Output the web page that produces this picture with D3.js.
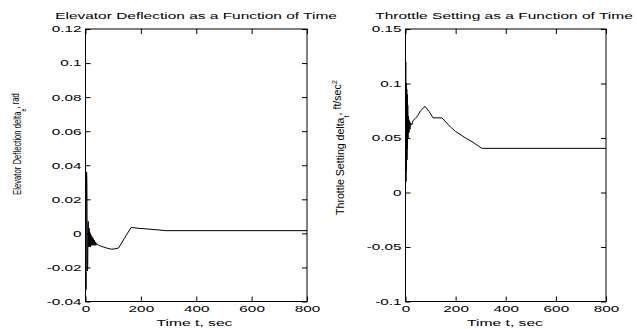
<!DOCTYPE html>
<html>
<head>
<meta charset="UTF-8"/>
<style>
  body { margin: 0; background: #fff; }
  text { font-family: "Liberation Sans", Arial, sans-serif; fill: #000; }
</style>
</head>
<body>
<script src="https://d3js.org/d3.v7.min.js"></script>
<script>
// ---- data ----
let xTicks = [0, 200, 400, 600, 800];

let elevTicks = [-0.04, -0.02, 0, 0.02, 0.04, 0.06, 0.08, 0.1, 0.12];
let elevTickLabels = ["-0.04", "-0.02", "0", "0.02", "0.04", "0.06", "0.08", "0.1", "0.12"];
let elevTime = [0, 1, 2, 3, 4, 5, 6, 7, 8, 9, 10, 11, 12, 13, 14, 15, 16, 17, 18, 20, 22, 24, 26,
    28, 30, 32, 34, 36, 38, 40, 44, 48, 55, 65, 80, 95, 110, 120, 140, 165, 190, 230, 290, 800];
let elevValue = [0, -0.01, -0.033, 0.02, 0.036, 0.03, -0.005, -0.022, -0.02, 0.005, 0.007, -0.008,
    -0.006, 0.003, -0.007, 0.001, -0.008, 0.0, -0.008, -0.001, -0.007, -0.002, -0.007, -0.003,
    -0.007, -0.004, -0.007, -0.005, -0.007, -0.006, -0.0065, -0.007, -0.0075, -0.008, -0.0088,
    -0.0093, -0.009, -0.0085, -0.003, 0.0035, 0.003, 0.0025, 0.0016, 0.0016];

let thrTicks = [-0.1, -0.05, 0, 0.05, 0.1, 0.15];
let thrTickLabels = ["-0.1", "-0.05", "0", "0.05", "0.1", "0.15"];
let thrTime = [0, 1, 2, 3, 4, 5, 6, 7, 8, 9, 10, 12, 14, 16, 18, 20, 25, 30, 40, 50, 60, 78, 95,
    110, 145, 180, 200, 240, 270, 305, 800];
let thrValue = [0.06, 0.12, 0.01, 0.10, 0.02, 0.095, 0.03, 0.09, 0.04, 0.08, 0.05, 0.07, 0.055,
    0.066, 0.058, 0.064, 0.062, 0.066, 0.068, 0.071, 0.075, 0.079, 0.074, 0.0685, 0.0685, 0.06,
    0.056, 0.05, 0.046, 0.0405, 0.0405];

let W = 637, H = 329;
let svg = d3.select("body").append("svg").attr("width", W).attr("height", H);

let fontSize = 9;
let stretchX = 1.7;   // the picture is widened horizontally

function stretch(sel, s) {
    sel.each(function() {
        let t = d3.select(this);
        let x = +t.attr("x") || 0, y = +t.attr("y") || 0;
        t.attr("x", 0).attr("y", 0)
         .attr("transform", "translate(" + x + "," + y + ") scale(" + s + ",1)");
    });
}

function panel(cfg) {
    let x = d3.scaleLinear().domain([0, 800]).range([cfg.x0, cfg.x1]);
    let y = d3.scaleLinear().domain(cfg.yDomain).range([cfg.yBot, cfg.yTop]);
    let g = svg.append("g").attr("font-size", fontSize);

    // ticks inside the box, labels outside
    let bottom = g.append("g").attr("transform", "translate(0," + cfg.yBot + ")")
        .call(d3.axisBottom(x).tickValues(xTicks).tickSize(-5).tickPadding(4).tickFormat(d3.format("d")));
    let left = g.append("g").attr("transform", "translate(" + cfg.x0 + ",0)")
        .call(d3.axisLeft(y).tickValues(cfg.yTicks).tickSize(-5).tickPadding(4)
            .tickFormat((d, i) => cfg.yLabels[i]));
    g.append("g").attr("transform", "translate(0," + cfg.yTop + ")")
        .call(d3.axisTop(x).tickValues(xTicks).tickSize(-5).tickFormat(""));
    g.append("g").attr("transform", "translate(" + cfg.x1 + ",0)")
        .call(d3.axisRight(y).tickValues(cfg.yTicks).tickSize(-5).tickFormat(""));
    g.selectAll(".domain").remove();
    g.selectAll(".tick line").attr("stroke", "#000");
    g.selectAll(".tick text").attr("fill", "#000")
        .style("font-family", "'Liberation Sans', Arial, sans-serif").attr("font-size", fontSize);
    stretch(bottom.selectAll(".tick text"), stretchX);
    stretch(left.selectAll(".tick text"), stretchX);

    g.append("rect")
        .attr("x", cfg.x0).attr("y", cfg.yTop)
        .attr("width", cfg.x1 - cfg.x0).attr("height", cfg.yBot - cfg.yTop)
        .attr("fill", "none").attr("stroke", "#000").attr("stroke-width", 1);

    let line = d3.line().x(d => x(d[0])).y(d => y(d[1]));
    g.append("path")
        .datum(cfg.t.map((t, i) => [t, cfg.v[i]]))
        .attr("d", line)
        .attr("fill", "none").attr("stroke", "#000").attr("stroke-width", 1);

    // title
    let title = g.append("text").attr("text-anchor", "middle").attr("font-size", fontSize)
        .text(cfg.title);
    let tl = title.node().getComputedTextLength();
    title.attr("transform", "translate(" + cfg.titleX + "," + cfg.titleY + ") scale(" + (cfg.titleW / tl) + ",1)");

    // x label
    let xl = g.append("text").attr("text-anchor", "middle").attr("font-size", fontSize)
        .text("Time t, sec");
    let xll = xl.node().getComputedTextLength();
    xl.attr("transform", "translate(" + cfg.xlabX + "," + 326 + ") scale(" + (76 / xll) + ",1)");

    // y label, rotated, with sub/superscripts
    let yl = g.append("text").attr("text-anchor", "middle").attr("font-size", 10.5)
        .attr("fill", "#000");
    cfg.ylab(yl);
    let yll = yl.node().getComputedTextLength();
    yl.attr("transform", "translate(" + cfg.ylabX + "," + cfg.ylabY + ") rotate(-90) scale(" + (cfg.ylabLen / yll) + ",1)");
}

panel({
    x0: 85.5, x1: 307, yTop: 29, yBot: 301.5,
    yDomain: [-0.04, 0.12], yTicks: elevTicks, yLabels: elevTickLabels,
    t: elevTime, v: elevValue,
    title: "Elevator Deflection as a Function of Time", titleX: 196, titleY: 19, titleW: 282,
    xlabX: 194.5,
    ylabX: 21, ylabY: 144, ylabLen: 102,
    ylab: function(t) {
        t.append("tspan").text("Elevator Deflection delta");
        t.append("tspan").attr("dy", "0.7em").attr("font-size", 7.5).text("e");
        t.append("tspan").attr("dy", "-0.7em").text(", rad");
    }
});

panel({
    x0: 405.5, x1: 606, yTop: 29, yBot: 301.5,
    yDomain: [-0.1, 0.15], yTicks: thrTicks, yLabels: thrTickLabels,
    t: thrTime, v: thrValue,
    title: "Throttle Setting as a Function of Time", titleX: 504, titleY: 19, titleW: 258,
    xlabX: 505,
    ylabX: 343.5, ylabY: 147.5, ylabLen: 135,
    ylab: function(t) {
        t.append("tspan").text("Throttle Setting delta");
        t.append("tspan").attr("dy", "0.7em").attr("font-size", 7.5).text("t");
        t.append("tspan").attr("dy", "-0.7em").text(", ft/sec");
        t.append("tspan").attr("dy", "-0.6em").attr("font-size", 7.5).text("2");
    }
});
</script>
</body>
</html>
